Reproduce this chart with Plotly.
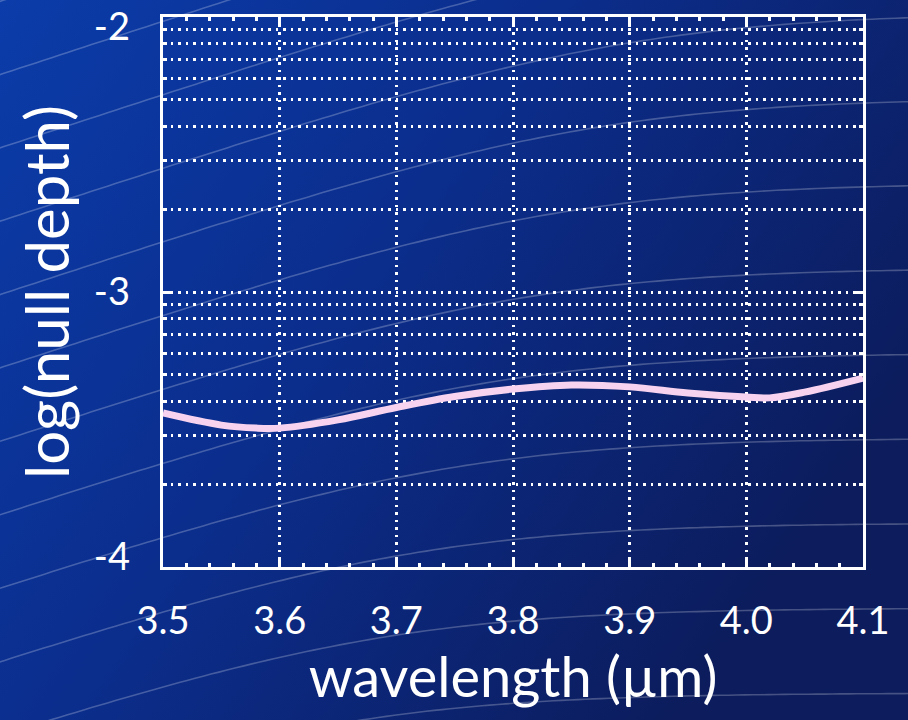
import base64
import numpy as np
import plotly.graph_objects as go

# ---- data ----
wavelength_um = [3.50, 3.55, 3.58, 3.60, 3.65, 3.70, 3.75, 3.80, 3.85, 3.90, 3.95, 4.00, 4.02, 4.05, 4.10]
log_null_depth = [-3.44, -3.484, -3.495, -3.495, -3.465, -3.42, -3.38, -3.353, -3.338, -3.345, -3.367, -3.382, -3.385, -3.364, -3.313]

x_ticks = [3.5, 3.6, 3.7, 3.8, 3.9, 4.0, 4.1]
x_ticklabels = ["3.5", "3.6", "3.7", "3.8", "3.9", "4.0", "4.1"]
y_decades = [1e-4, 1e-3, 1e-2]
y_ticklabels = ["-4", "-3", "-2"]
# label anchor positions (log10) – end labels sit just inside the frame, as in the reference
y_label_pos_log = [-3.964, -3.0, -2.036]

null_depth = [10 ** v for v in log_null_depth]

W, H = 908, 720

# ---- decorative background (gradient + faint swoosh lines) ----
def swoosh(Y, S, m=0.33, L=130.0):
    xs = np.linspace(-20, W + 20, 120)
    ys = Y + m * L * np.log1p(np.exp((S - xs) / L))
    return "M " + " L ".join(f"{a:.1f},{b:.1f}" for a, b in zip(xs, ys))

paths = []
for k in range(-4, 9):
    Y = 13 + 85 * k
    S = 380 + (608 - Y) * 0.42
    paths.append(f'<path d="{swoosh(Y, S)}" fill="none" stroke="white" stroke-opacity="0.24" stroke-width="1.6"/>')

svg = f'''<svg xmlns="http://www.w3.org/2000/svg" width="{W}" height="{H}" viewBox="0 0 {W} {H}">
<defs><linearGradient id="g" x1="0" y1="0" x2="1" y2="0.55">
<stop offset="0" stop-color="#0b3ca9"/>
<stop offset="0.45" stop-color="#0b2e8e"/>
<stop offset="1" stop-color="#0c1c5c"/>
</linearGradient></defs>
<rect width="{W}" height="{H}" fill="url(#g)"/>
{''.join(paths)}
</svg>'''
bg_uri = "data:image/svg+xml;base64," + base64.b64encode(svg.encode()).decode()

fig = go.Figure()
fig.add_trace(go.Scatter(
    x=wavelength_um, y=null_depth, mode="lines",
    line=dict(color="#f7d3ef", width=7, shape="spline", smoothing=1.0),
    hoverinfo="x+y", showlegend=False,
))

axis_font = dict(family="Lato, 'Open Sans', sans-serif", size=38, color="white")
xtitle_font = dict(family="Lato, 'Open Sans', sans-serif", size=56, color="white")
ytitle_font = dict(family="Lato, 'Open Sans', sans-serif", size=60, color="white")

y_range = [-4.00001, -1.99999]
y_domain = [1 - 567 / H, 1 - 17 / H]

fig.update_xaxes(
    range=[3.5, 4.1], domain=[163 / W, 863 / W],
    tickvals=x_ticks, ticktext=x_ticklabels, tickfont=axis_font,
    ticks="inside", ticklen=9, tickwidth=2.5, tickcolor="white",
    showline=True, linecolor="white", linewidth=3, mirror="ticks",
    showgrid=True, gridcolor="white", gridwidth=2.5, griddash="2.5px,5px",
    minor=dict(dtick=0.02, ticks="inside", ticklen=4, tickwidth=2.5, tickcolor="white", showgrid=False),
    ticklabelstandoff=18, ticklabeloverflow="allow", zeroline=False,
    title=dict(text="wavelength (µm)", font=xtitle_font, standoff=10),
)
fig.update_yaxes(
    type="log", range=y_range, domain=y_domain,
    tickvals=y_decades, showticklabels=False,
    ticks="inside", ticklen=9, tickwidth=2.5, tickcolor="white",
    showline=True, linecolor="white", linewidth=3, mirror="ticks",
    showgrid=True, gridcolor="white", gridwidth=2.5, griddash="2.5px,5px",
    minor=dict(tickvals=[k * 10 ** e for e in (-4, -3) for k in range(2, 10)],
               ticks="inside", ticklen=4, tickwidth=2.5, tickcolor="white",
               showgrid=True, gridcolor="white", gridwidth=2.5, griddash="2.5px,5px"),
    zeroline=False,
)

# label axis: same scale, carries the tick labels and the title
fig.update_layout(
    yaxis2=dict(
        type="log", range=y_range, overlaying="y", side="left", anchor="x",
        tickvals=[10 ** v for v in y_label_pos_log], ticktext=y_ticklabels,
        tickfont=axis_font, ticks="", showgrid=False, showline=False, zeroline=False,
        ticklabelstandoff=32, ticklabeloverflow="allow",
        title=dict(text="log(null depth)", font=ytitle_font, standoff=4),
    )
)
# invisible helper trace so the label axis is drawn
fig.add_trace(go.Scatter(x=[wavelength_um[0]], y=[null_depth[0]], yaxis="y2",
                         mode="markers", marker=dict(opacity=0), hoverinfo="skip",
                         showlegend=False))

fig.update_layout(
    width=W, height=H,
    margin=dict(l=0, r=0, t=0, b=0, autoexpand=False),
    paper_bgcolor="#0b2a86", plot_bgcolor="rgba(0,0,0,0)",
    images=[dict(source=bg_uri, xref="paper", yref="paper", x=0, y=1,
                 sizex=1, sizey=1, xanchor="left", yanchor="top",
                 sizing="stretch", layer="below")],
)

fig.write_html("out.html")
